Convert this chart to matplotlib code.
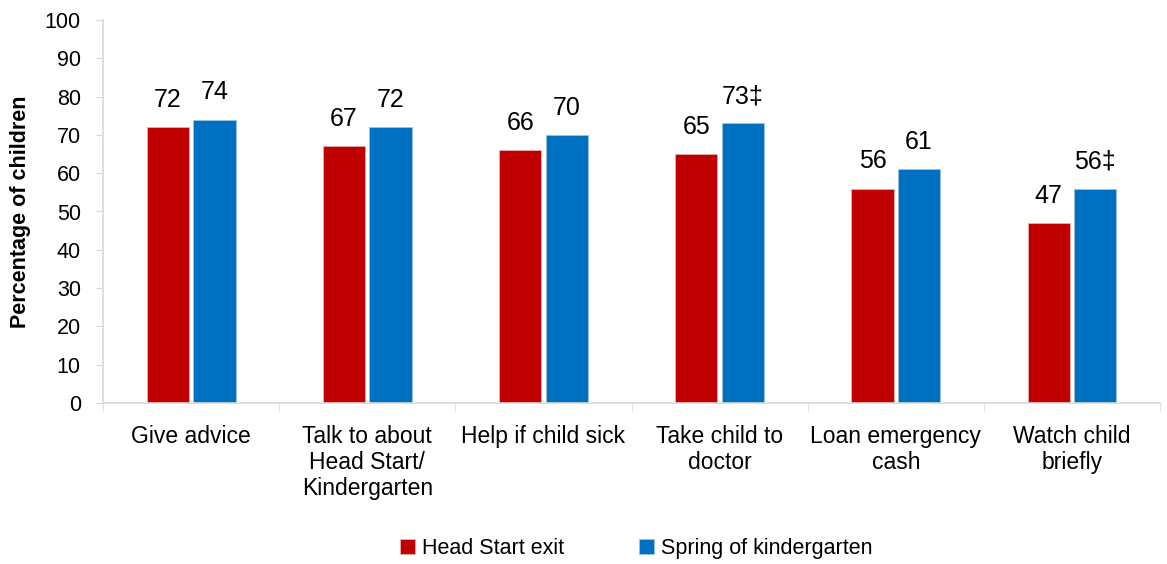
import matplotlib.pyplot as plt
import numpy as np

categories = ['Give advice', 'Talk to about\nHead Start/\nKindergarten', 'Help if child sick',
              'Take child to\ndoctor', 'Loan emergency\ncash', 'Watch child\nbriefly']
head_start = [72, 67, 66, 65, 56, 47]
spring_k = [74, 72, 70, 73, 61, 56]
hs_labels = ['72', '67', '66', '65', '56', '47']
sk_labels = ['74', '72', '70', '73\u2021', '61', '56\u2021']

plt.rcParams['font.family'] = ['Liberation Sans', 'DejaVu Sans']

red = '#C00000'
blue = '#0070C0'
grey = '#D9D9D9'

fig = plt.figure(figsize=(11.67, 5.64), dpi=100)
ax = fig.add_axes([0.0883, 0.2855, 0.9057, 0.679])

x = np.arange(len(categories))
w = 0.24
gap = 0.012
b1 = ax.bar(x - w / 2 - gap, head_start, w, color=red, edgecolor='#E6B0B0', linewidth=0.6,
            label='Head Start exit')
b2 = ax.bar(x + w / 2 + gap, spring_k, w, color=blue, edgecolor='#9CC3E6', linewidth=0.6,
            label='Spring of kindergarten')

# labels above bars
for rect, lab in zip(b1, hs_labels):
    ax.text(rect.get_x() + rect.get_width() / 2, rect.get_height() + 4, lab,
            ha='center', va='bottom', fontsize=18)
for rect, lab in zip(b2, sk_labels):
    ax.text(rect.get_x() + rect.get_width() / 2, rect.get_height() + 4, lab,
            ha='center', va='bottom', fontsize=18)

ax.set_xlim(-0.5, len(categories) - 0.5)
ax.set_ylim(0, 100)
ax.set_yticks(range(0, 101, 10))
ax.tick_params(axis='y', labelsize=15.5, direction='out', length=5, color=grey, pad=11)

ax.set_xticks(x)
ax.set_xticklabels(categories, fontsize=16.5, va='top', linespacing=1.15)
ax.tick_params(axis='x', length=0, pad=16)
ax.set_xticks(np.arange(-0.5, len(categories)), minor=True)
ax.tick_params(axis='x', which='minor', length=6, color=grey, direction='out')

for s in ['top', 'right']:
    ax.spines[s].set_visible(False)
for s in ['left', 'bottom']:
    ax.spines[s].set_color(grey)
    ax.spines[s].set_linewidth(1.2)

ax.set_ylabel('Percentage of children', fontsize=15.5, fontweight='bold', labelpad=10)

fig.legend(handles=[b1, b2], loc='lower center', bbox_to_anchor=(0.545, -0.025), ncol=2,
           frameon=False, fontsize=15.5, handlelength=0.7, handleheight=0.7,
           columnspacing=3.5, handletextpad=0.3)

fig.savefig('out.png', dpi=100)
